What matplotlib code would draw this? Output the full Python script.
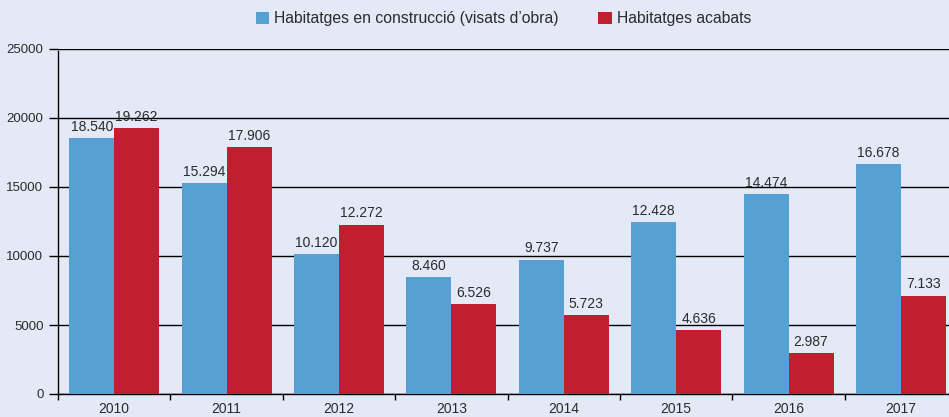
import matplotlib
matplotlib.use("Agg")
import matplotlib.pyplot as plt
import numpy as np
from matplotlib.patches import Patch
from matplotlib.ticker import FixedLocator

years = ["2010", "2011", "2012", "2013", "2014", "2015", "2016", "2017"]
construccio = [18540, 15294, 10120, 8460, 9737, 12428, 14474, 16678]
acabats = [19262, 17906, 12272, 6526, 5723, 4636, 2987, 7133]
series_names = ["Habitatges en construcció (visats d\u2019obra)", "Habitatges acabats"]
yticks = [0, 5000, 10000, 15000, 20000, 25000]

BG = "#e3e9f6"
BLUE = "#57a0d3"
RED = "#c01f2f"
TXT = "#2b2b2b"

plt.rcParams["font.family"] = ["Liberation Sans", "DejaVu Sans"]

W, H = 949, 417
fig = plt.figure(figsize=(W / 100, H / 100), dpi=100, facecolor=BG)
left, right, top, bottom = 58, 949, 49, 394
ax = fig.add_axes([left / W, (H - bottom) / H, (right - left) / W, (bottom - top) / H])
ax.set_facecolor(BG)

x = np.arange(len(years))
bw = 0.4
b1 = ax.bar(x - bw / 2, construccio, bw, color=BLUE, zorder=3)
b2 = ax.bar(x + bw / 2, acabats, bw, color=RED, zorder=3)

def fmt(v):
    return f"{v:,}".replace(",", ".")

for bars, vals in ((b1, construccio), (b2, acabats)):
    for r, v in zip(bars, vals):
        ax.annotate(fmt(v), (r.get_x() + r.get_width() / 2, v), xytext=(0, 3),
                    textcoords="offset points", ha="center", va="bottom",
                    fontsize=10, color=TXT, zorder=4)

ax.set_ylim(0, 25000)
ax.set_xlim(-0.5, -0.5 + (right - left) / 112.4)
ax.set_yticks(yticks)
ax.set_yticklabels([str(t) for t in yticks])
ax.grid(axis="y", color="black", linewidth=1.0, zorder=1)
ax.set_axisbelow(True)

ax.set_xticks(x)
ax.set_xticklabels(years)
ax.xaxis.set_minor_locator(FixedLocator(np.arange(-0.5, len(years), 1.0)))
ax.tick_params(axis="x", which="major", length=0, pad=6, labelsize=10, labelcolor=TXT)
ax.tick_params(axis="x", which="minor", length=4.3, width=1.0, color="black", direction="out")
ax.tick_params(axis="y", length=6.5, width=1.0, color="black", pad=4, labelsize=9.5, labelcolor=TXT)

for s in ("top", "right"):
    ax.spines[s].set_visible(False)
ax.spines["left"].set_linewidth(1.0)
ax.spines["bottom"].set_linewidth(1.0)
ax.spines["left"].set_bounds(0, 24850)

handles = [Patch(facecolor=BLUE, edgecolor="none"), Patch(facecolor=RED, edgecolor="none")]
fig.legend(handles, series_names, loc="center", bbox_to_anchor=((left + right) / 2 / W, 1 - 19 / H),
           ncol=2, frameon=False, fontsize=11.3, handlelength=0.85, handleheight=0.85,
           handletextpad=0.35, columnspacing=2.5, labelcolor=TXT, borderpad=0)

fig.savefig("out.png", dpi=100, facecolor=BG)
